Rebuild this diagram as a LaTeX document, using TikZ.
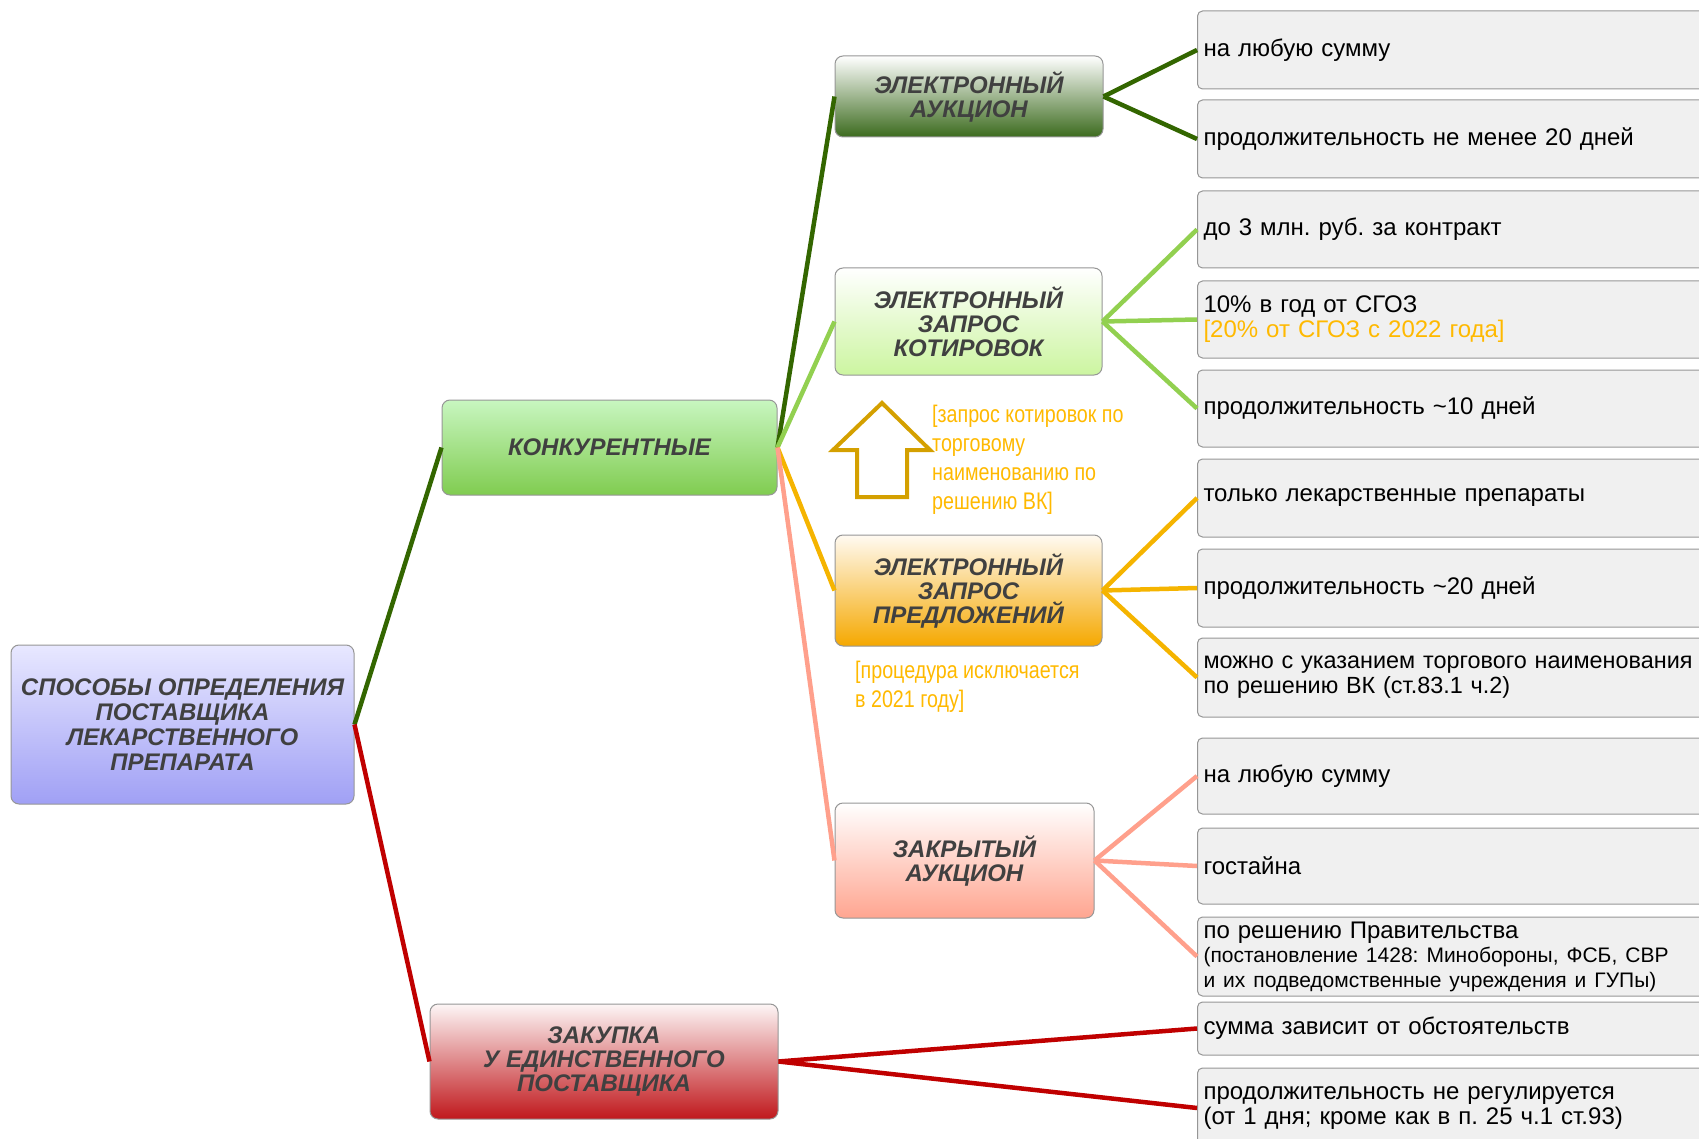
\documentclass[tikz,border=0pt]{standalone}
\usepackage{fontspec}
\setmainfont{Liberation Sans}
\newfontfamily\narrowfont[FakeStretch=0.82]{Liberation Sans}
\usetikzlibrary{positioning}
\frenchspacing

\definecolor{darkgreen}{RGB}{51,102,0}
\definecolor{lightgreen}{RGB}{146,208,80}
\definecolor{amber}{RGB}{245,180,0}
\definecolor{salmon}{RGB}{255,160,140}
\definecolor{darkred}{RGB}{192,0,0}
\definecolor{headtext}{RGB}{64,64,64}
\definecolor{arrowgold}{RGB}{212,160,0}
\definecolor{notegold}{RGB}{255,185,0}
\definecolor{factfill}{RGB}{240,240,240}
\definecolor{boxline}{RGB}{150,150,150}

\tikzstyle{method} = [rectangle, rounded corners=8pt, draw=boxline, line width=1pt, text=headtext, align=center, font=\bfseries\itshape\fontsize{24}{24}\selectfont]
\tikzstyle{fact} = [rectangle, rounded corners=5pt, draw=boxline, line width=1pt, fill=factfill, anchor=west, minimum width=563pt, text width=551pt, inner xsep=6pt, align=left, font=\fontsize{24}{25}\selectfont]
\tikzstyle{note} = [text=notegold, anchor=north west, inner sep=0pt, align=left, font=\narrowfont\fontsize{24}{29}\selectfont]
\tikzstyle{link} = [line width=4.5pt]

\begin{document}
\begin{tikzpicture}[x=1pt, y=-1pt]
\useasboundingbox (0,0) rectangle (1699,1139);
\clip (0,0) rectangle (1699,1139);

% methods
\node (root) [method, minimum width=343pt, minimum height=159pt, top color={rgb,255:red,232;green,232;blue,255}, bottom color={rgb,255:red,160;green,160;blue,245}, font=\bfseries\itshape\fontsize{24}{25}\selectfont] at (182.5,724.5) {СПОСОБЫ ОПРЕДЕЛЕНИЯ\\ПОСТАВЩИКА\\ЛЕКАРСТВЕННОГО\\ПРЕПАРАТА};
\node (konk) [method, minimum width=335pt, minimum height=95pt, top color={rgb,255:red,200;green,246;blue,192}, bottom color={rgb,255:red,128;green,204;blue,80}] at (609.5,447.5) {КОНКУРЕНТНЫЕ};
\node (single) [method, minimum width=348pt, minimum height=115pt, top color={rgb,255:red,253;green,246;blue,246}, bottom color={rgb,255:red,192;green,24;blue,28}] at (604,1061.5) {ЗАКУПКА\\У ЕДИНСТВЕННОГО\\ПОСТАВЩИКА};

\node (eauction) [method, minimum width=268pt, minimum height=81pt, top color=white, bottom color={rgb,255:red,60;green,107;blue,30}] at (969,96.5) {ЭЛЕКТРОННЫЙ\\АУКЦИОН};
\node (quotes) [method, minimum width=267pt, minimum height=107pt, top color=white, bottom color={rgb,255:red,204;green,245;blue,160}] at (968.5,321.5) {ЭЛЕКТРОННЫЙ\\ЗАПРОС\\КОТИРОВОК};
\node (offers) [method, minimum width=267pt, minimum height=111pt, top color={rgb,255:red,255;green,250;blue,242}, bottom color={rgb,255:red,245;green,168;blue,0}] at (968.5,590.5) {ЭЛЕКТРОННЫЙ\\ЗАПРОС\\ПРЕДЛОЖЕНИЙ};
\node (closed) [method, minimum width=259pt, minimum height=115pt, top color=white, bottom color={rgb,255:red,255;green,165;blue,144}] at (964.5,860.5) {ЗАКРЫТЫЙ\\АУКЦИОН};

% facts
\node (ea1) [fact, minimum height=78pt] at (1197,50) {на любую сумму};
\node (ea2) [fact, minimum height=78pt] at (1197,139) {продолжительность не менее 20 дней};
\node (qu1) [fact, minimum height=77pt] at (1197,229.5) {до 3 млн. руб. за контракт};
\node (qu2) [fact, minimum height=77pt] at (1197,319.5) {10\% в год от СГОЗ\\\textcolor{notegold}{[20\% от СГОЗ с 2022 года]}};
\node (qu3) [fact, minimum height=77pt] at (1197,408.5) {продолжительность \textasciitilde10 дней};
\node (of1) [fact, minimum height=78pt] at (1197,498) {только лекарственные препараты};
\node (of2) [fact, minimum height=78pt] at (1197,588) {продолжительность \textasciitilde20 дней};
\node (of3) [fact, minimum height=79pt, font=\fontsize{23.4}{25}\selectfont] at (1197,677.5) {можно с указанием торгового наименования\\по решению ВК (ст.83.1 ч.2)};
\node (cl1) [fact, minimum height=76pt] at (1197,776) {на любую сумму};
\node (cl2) [fact, minimum height=76pt] at (1197,866) {гостайна};
\node (cl3) [fact, minimum height=79pt] at (1197,956.5) {по решению Правительства\\[2pt]{\fontsize{21}{22}\selectfont (постановление 1428: Минобороны, ФСБ, СВР\\и их подведомственные учреждения и ГУПы)}};
\node (si1) [fact, minimum height=53pt] at (1197,1028.5) {сумма зависит от обстоятельств};
\node (si2) [fact, minimum height=80pt] at (1197,1108) {продолжительность не регулируется\\(от 1 дня; кроме как в п. 25 ч.1 ст.93)};

% notes
\draw[arrowgold, line width=4pt] (882,403) -- (930,450) -- (907,450) -- (907,497) -- (857,497) -- (857,450) -- (833,450) -- cycle;
\node (quotenote) [note] at (932,405) {[запрос котировок по\\торговому\\наименованию по\\решению ВК]};
\node (offernote) [note] at (855,661) {[процедура исключается\\в 2021 году]};

% links
\draw[link, darkgreen] (root.east) -- (konk.west);
\draw[link, darkred] (root.east) -- (single.west);
\draw[link, darkgreen] (konk.east) -- (eauction.west);
\draw[link, lightgreen] (konk.east) -- (quotes.west);
\draw[link, amber] (konk.east) -- (offers.west);
\draw[link, salmon] (konk.east) -- (closed.west);
\foreach \f in {ea1,ea2} \draw[link, darkgreen] (eauction.east) -- (\f.west);
\foreach \f in {qu1,qu2,qu3} \draw[link, lightgreen] (quotes.east) -- (\f.west);
\foreach \f in {of1,of2,of3} \draw[link, amber] (offers.east) -- (\f.west);
\foreach \f in {cl1,cl2,cl3} \draw[link, salmon] (closed.east) -- (\f.west);
\foreach \f in {si1,si2} \draw[link, darkred] (single.east) -- (\f.west);
\end{tikzpicture}
\end{document}
